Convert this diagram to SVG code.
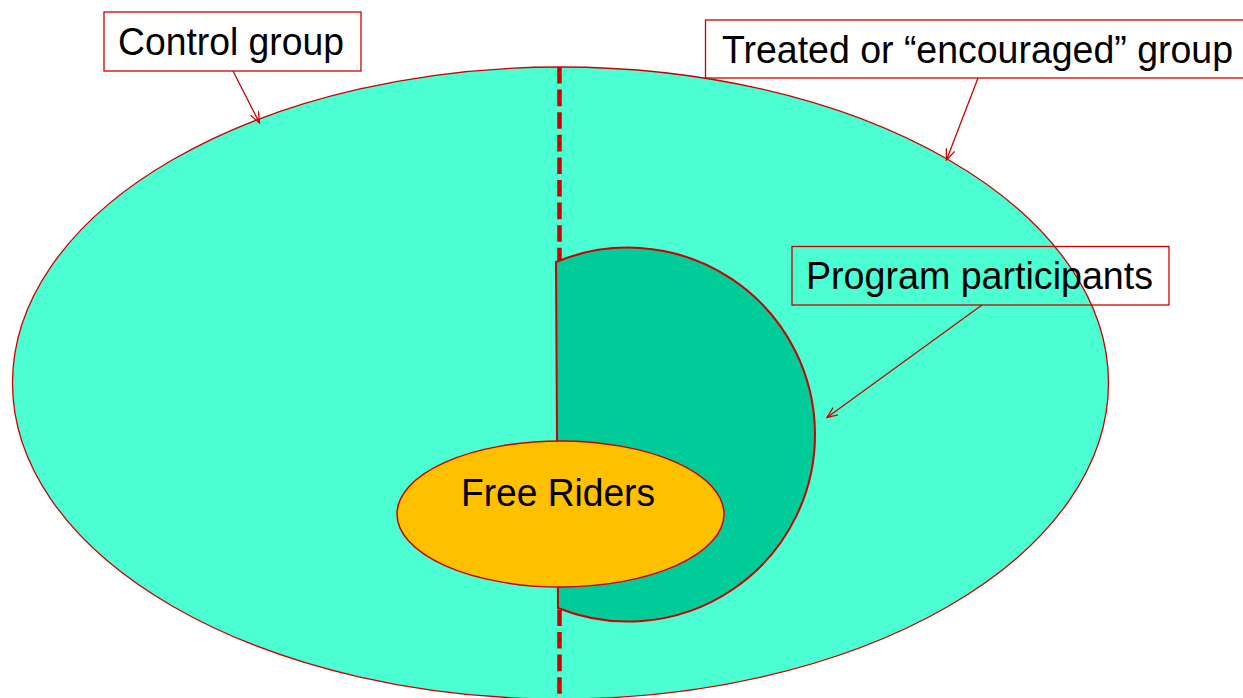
<svg xmlns="http://www.w3.org/2000/svg" width="1243" height="698" viewBox="0 0 1243 698">
<defs>
<style>
.lbl{font-family:"Liberation Sans",Arial,sans-serif;font-size:38px;fill:#000}
.box{fill:none;stroke:#CC0000;stroke-width:1.3}
.conn{stroke:#CC0000;stroke-width:1.3;fill:none}
</style>
<marker id="arr" viewBox="0 0 12 10" refX="11" refY="5" markerWidth="12" markerHeight="10" markerUnits="userSpaceOnUse" orient="auto">
<path d="M0,0.5 L11,5 L0,9.5" fill="none" stroke="#CC0000" stroke-width="1.3"/>
</marker>
</defs>
<rect width="1243" height="698" fill="#fff"/>
<g id="population">
<ellipse cx="560.5" cy="383" rx="548" ry="316" fill="#4BFFD3" stroke="#CC0000" stroke-width="1.3"/>
</g>
<g id="divider">
<line x1="559.5" y1="67" x2="559.5" y2="698" stroke="#CC0000" stroke-width="4.5" stroke-dasharray="16.6 6"/>
</g>
<g id="participants">
<path d="M556 262 A187 187 0 1 1 558 608 Z" fill="#00CC99" stroke="#CC0000" stroke-width="2"/>
</g>
<g id="free-riders">
<ellipse cx="560.5" cy="514" rx="163.5" ry="73" fill="#FFC000" stroke="#CC0000" stroke-width="1.5"/>
<text class="lbl" x="461" y="506" textLength="194" lengthAdjust="spacingAndGlyphs">Free Riders</text>
</g>
<g id="control-label">
<rect class="box" x="104" y="12" width="257" height="59" style="fill:#fff"/>
<text class="lbl" x="118" y="55" textLength="226" lengthAdjust="spacingAndGlyphs">Control group</text>
</g>
<g id="treated-label">
<rect class="box" x="705.5" y="20" width="545" height="58"/>
<text class="lbl" x="722" y="63" textLength="511" lengthAdjust="spacingAndGlyphs">Treated or “encouraged” group</text>
</g>
<g id="participants-label">
<rect class="box" x="792" y="246.5" width="377" height="58.5"/>
<text class="lbl" x="806" y="289" textLength="347" lengthAdjust="spacingAndGlyphs">Program participants</text>
</g>
<g id="connectors">
<line class="conn" x1="233" y1="71" x2="259.5" y2="123" marker-end="url(#arr)"/>
<line class="conn" x1="978" y1="78" x2="946.5" y2="160" marker-end="url(#arr)"/>
<line class="conn" x1="982" y1="305" x2="827" y2="417.5" marker-end="url(#arr)"/>
</g>
</svg>
